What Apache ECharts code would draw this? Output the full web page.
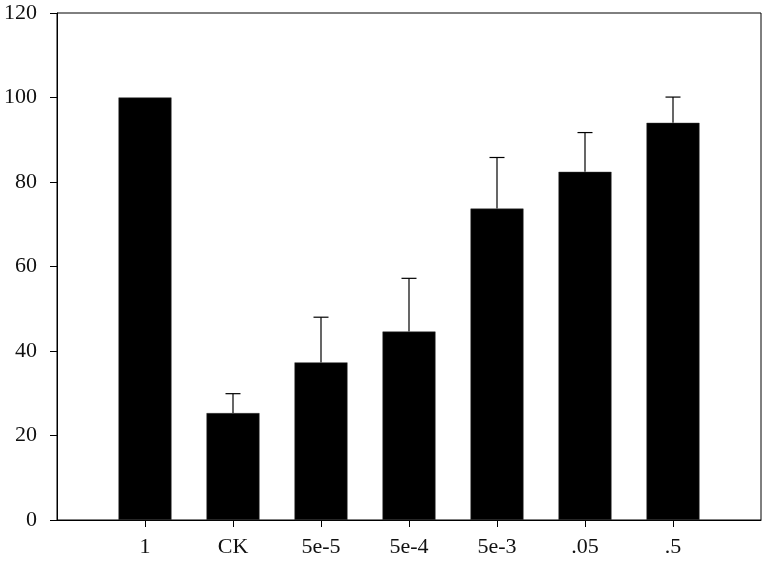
<!DOCTYPE html>
<html>
<head>
<meta charset="utf-8">
<script src="https://cdn.jsdelivr.net/npm/echarts@6/dist/echarts.min.js"></script>
<style>
  html, body { margin: 0; padding: 0; background: #fff; }
  #chart { width: 768px; height: 566px; }
</style>
</head>
<body>
<div id="chart"></div>
<script>
// 처리별 막대 + 위쪽 오차막대
const categories = ["1", "CK", "5e-5", "5e-4", "5e-3", ".05", ".5"];
const values = [100, 25.3, 37.3, 44.6, 73.7, 82.4, 94.0];
const errors = [0, 4.6, 10.7, 12.6, 12.1, 9.3, 6.1];
const yTicks = [0, 20, 40, 60, 80, 100, 120];

const FONT = "Liberation Serif";

// x축은 양 끝에 빈 자리 하나씩 — 원본처럼 막대 간격 = 축 끝 여백
const axisCats = [""].concat(categories, [""]);
const barData = ["-"].concat(values, ["-"]);
const errData = categories.map((c, i) => [c, values[i], values[i] + errors[i]]).filter((d, i) => errors[i] > 0);

const chart = echarts.init(document.getElementById("chart"), null, { renderer: "canvas" });
chart.setOption({
  animation: false,
  backgroundColor: "#fff",
  textStyle: { fontFamily: FONT },
  grid: { left: 57, right: 7, top: 13, bottom: 46, show: true, borderColor: "#000", borderWidth: 1, containLabel: false },
  xAxis: {
    type: "category",
    data: axisCats,
    boundaryGap: false,
    axisLine: { lineStyle: { color: "#000", width: 1 } },
    axisTick: { show: true, inside: false, length: 7, lineStyle: { color: "#000" }, interval: (idx, val) => val !== "" },
    axisLabel: { interval: 0, fontFamily: FONT, fontSize: 22, color: "#111", margin: 16 },
    splitLine: { show: false }
  },
  yAxis: {
    type: "value",
    min: yTicks[0],
    max: yTicks[yTicks.length - 1],
    interval: 20,
    axisLine: { show: true, lineStyle: { color: "#000", width: 1 } },
    axisTick: { show: true, inside: false, length: 7, lineStyle: { color: "#000" } },
    axisLabel: { fontFamily: FONT, fontSize: 22, color: "#111", margin: 20 },
    splitLine: { show: false }
  },
  series: [
    {
      type: "bar",
      data: barData,
      barWidth: 53,
      itemStyle: { color: "#000", borderColor: "#333", borderWidth: 0.5 }
    },
    {
      type: "custom",
      data: errData,
      z: 1,
      renderItem: (params, api) => {
        const base = api.coord([api.value(0), api.value(1)]);
        const top = api.coord([api.value(0), api.value(2)]);
        const half = 7.5;
        const st = { stroke: "#000", lineWidth: 1.2 };
        return {
          type: "group",
          children: [
            { type: "line", shape: { x1: top[0], y1: base[1], x2: top[0], y2: top[1] }, style: st },
            { type: "line", shape: { x1: top[0] - half, y1: top[1], x2: top[0] + half, y2: top[1] }, style: st }
          ]
        };
      },
      encode: { x: 0, y: [1, 2] }
    }
  ]
});
</script>
</body>
</html>
